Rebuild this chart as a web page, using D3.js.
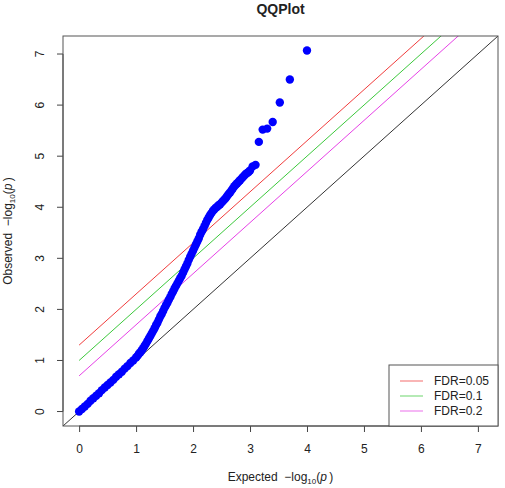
<!DOCTYPE html>
<html>
<head>
<meta charset="utf-8">
<script src="https://cdn.jsdelivr.net/npm/d3@7"></script>
<style>
    body { margin: 0; background: #fff; }
    svg { font-family: "Liberation Sans", Arial, sans-serif; }
</style>
</head>
<body>
<svg id="chart" width="505" height="488"></svg>
<script>

// expected -log10(p)
var expected = [
    0.00, 0.05, 0.10, 0.15, 0.20, 0.25, 0.30, 0.35, 0.40, 0.45,
    0.50, 0.55, 0.60, 0.65, 0.70, 0.75, 0.80, 0.85, 0.90, 0.95,
    1.000, 1.025, 1.050, 1.075, 1.100, 1.125, 1.150, 1.175, 1.200, 1.225,
    1.250, 1.275, 1.300, 1.325, 1.350, 1.375, 1.400, 1.425, 1.450, 1.475,
    1.500, 1.525, 1.550, 1.575, 1.600, 1.625, 1.650, 1.675, 1.700, 1.725,
    1.750, 1.775, 1.800, 1.825, 1.850, 1.875, 1.900, 1.925, 1.950, 1.975,
    2.000, 2.025, 2.050, 2.075, 2.100, 2.125, 2.150, 2.175, 2.200, 2.225,
    2.250, 2.275, 2.300, 2.325, 2.350, 2.375, 2.400, 2.425, 2.450, 2.475,
    2.500, 2.525, 2.550, 2.575, 2.600, 2.625, 2.650, 2.675, 2.700, 2.725,
    2.750, 2.775, 2.800, 2.825, 2.850, 2.875, 2.900, 2.925, 2.950, 2.975,
    3.000, 3.046, 3.097, 3.155, 3.222, 3.301, 3.398, 3.523, 3.699, 4.000
];

// observed -log10(p)
var observed = [
    0.00, 0.05, 0.10, 0.15, 0.21, 0.26, 0.31, 0.36, 0.42, 0.47,
    0.52, 0.57, 0.62, 0.68, 0.73, 0.78, 0.84, 0.89, 0.95, 1.00,
    1.06, 1.09, 1.13, 1.16, 1.20, 1.24, 1.29, 1.33, 1.38, 1.43,
    1.48, 1.53, 1.58, 1.63, 1.69, 1.74, 1.80, 1.86, 1.91, 1.97,
    2.03, 2.08, 2.13, 2.19, 2.24, 2.30, 2.35, 2.41, 2.46, 2.51,
    2.56, 2.61, 2.66, 2.72, 2.78, 2.84, 2.90, 2.97, 3.03, 3.09,
    3.15, 3.21, 3.27, 3.33, 3.39, 3.46, 3.52, 3.57, 3.63, 3.69,
    3.75, 3.80, 3.85, 3.89, 3.93, 3.96, 3.99, 4.01, 4.04, 4.06,
    4.09, 4.12, 4.15, 4.18, 4.22, 4.26, 4.29, 4.33, 4.37, 4.41,
    4.44, 4.47, 4.50, 4.53, 4.56, 4.59, 4.62, 4.65, 4.67, 4.69,
    4.72, 4.80, 4.83, 5.28, 5.52, 5.54, 5.67, 6.05, 6.50, 7.07
];

var fdrLevels = [0.05, 0.1, 0.2];
var fdrLabels = ["FDR=0.05", "FDR=0.1", "FDR=0.2"];
var fdrColors = ["#f03c3c", "#3cc83c", "#e640e6"];

var axisLimits = [-0.283, 7.353];
var tickValues = [0, 1, 2, 3, 4, 5, 6, 7];

init();

function init() {

    var svg = d3.select("#chart"),
        margin = {top: 36, right: 7, bottom: 62, left: 63},
        width = +svg.attr("width") - margin.left - margin.right,
        height = +svg.attr("height") - margin.top - margin.bottom;

    var x = d3.scaleLinear().domain(axisLimits).range([0, width]),
        y = d3.scaleLinear().domain(axisLimits).range([height, 0]);

    var g = svg.append("g")
        .attr("transform", "translate(" + margin.left + "," + margin.top + ")");

    g.append("clipPath")
        .attr("id", "plotClip")
        .append("rect")
        .attr("width", width)
        .attr("height", height);

    var lines = g.append("g").attr("clip-path", "url(#plotClip)");

    // y = x reference line
    lines.append("line")
        .attr("x1", x(axisLimits[0])).attr("y1", y(axisLimits[0]))
        .attr("x2", x(axisLimits[1])).attr("y2", y(axisLimits[1]))
        .attr("stroke", "#333")
        .attr("stroke-width", 1);

    // FDR lines start at expected = 0
    fdrLevels.forEach(function (f, i) {
        var b = -Math.log10(f);
        lines.append("line")
            .attr("x1", x(0)).attr("y1", y(b))
            .attr("x2", x(axisLimits[1])).attr("y2", y(axisLimits[1] + b))
            .attr("stroke", fdrColors[i])
            .attr("stroke-width", 1);
    });

    g.selectAll(".dot")
        .data(expected)
        .enter().append("circle")
        .attr("class", "dot")
        .attr("cx", function (d) { return x(d); })
        .attr("cy", function (d, i) { return y(observed[i]); })
        .attr("r", 4.2)
        .attr("fill", "#0000ff");

    // axes, R style
    var xAxis = g.append("g")
        .attr("transform", "translate(0," + (height) + ")")
        .call(d3.axisBottom(x).tickValues(tickValues).tickSize(6).tickPadding(12));

    var yAxis = g.append("g")
        .call(d3.axisLeft(y).tickValues(tickValues).tickSize(6).tickPadding(12));

    [xAxis, yAxis].forEach(function (a) {
        a.select(".domain").remove();
        a.selectAll("line").attr("stroke", "#444");
        a.selectAll("text")
            .style("font-size", "12px")
            .attr("fill", "#222");
    });

    yAxis.selectAll("text")
        .attr("x", null).attr("dy", null)
        .attr("text-anchor", "middle")
        .attr("transform", function (d) { return "translate(-19," + y(d) + ") rotate(-90)"; });
    yAxis.selectAll(".tick").attr("transform", null);
    yAxis.selectAll(".tick line")
        .attr("y1", function (d) { return y(d); })
        .attr("y2", function (d) { return y(d); });

    // axis lines along the tick range
    g.append("line")
        .attr("x1", x(0)).attr("x2", x(7))
        .attr("y1", height).attr("y2", height)
        .attr("stroke", "#444");
    g.append("line")
        .attr("x1", 0).attr("x2", 0)
        .attr("y1", y(0)).attr("y2", y(7))
        .attr("stroke", "#444");

    g.append("rect")
        .attr("width", width)
        .attr("height", height)
        .attr("fill", "none")
        .attr("stroke", "#555")
        .attr("stroke-width", 1);

    // legend
    var legend = g.append("g")
        .attr("transform", "translate(" + (width - 109) + "," + (height - 61) + ")");

    legend.append("rect")
        .attr("width", 109)
        .attr("height", 61)
        .attr("fill", "#fff")
        .attr("stroke", "#555");

    fdrLabels.forEach(function (label, i) {
        var ly = 16 + i * 15;
        legend.append("line")
            .attr("x1", 11).attr("x2", 34)
            .attr("y1", ly).attr("y2", ly)
            .attr("stroke", fdrColors[i])
            .attr("stroke-opacity", 0.5)
            .attr("stroke-width", 1.5);
        legend.append("text")
            .attr("x", 45)
            .attr("y", ly + 4)
            .style("font-size", "12px")
            .attr("fill", "#222")
            .text(label);
    });

    // title and axis labels
    svg.append("text")
        .attr("x", margin.left + width / 2)
        .attr("y", 14)
        .attr("text-anchor", "middle")
        .style("font-size", "14px")
        .style("font-weight", "bold")
        .attr("fill", "#222")
        .text("QQPlot");

    var xLabel = svg.append("text")
        .attr("x", margin.left + width / 2)
        .attr("y", 481)
        .attr("text-anchor", "middle")
        .style("font-size", "12px")
        .attr("fill", "#222");
    logLabel(xLabel, "Expected");

    var yLabel = svg.append("text")
        .attr("transform", "translate(12," + (margin.top + height / 2) + ") rotate(-90)")
        .attr("text-anchor", "middle")
        .style("font-size", "12px")
        .attr("fill", "#222");
    logLabel(yLabel, "Observed");
}

function logLabel(text, word) {
    text.append("tspan").text(word + "\u00a0\u00a0\u2212log");
    text.append("tspan").attr("dy", 3).style("font-size", "8px").text("10");
    text.append("tspan").attr("dy", -3).text("(");
    text.append("tspan").style("font-style", "italic").text("p");
    text.append("tspan").text("\u2009)");
}
</script>
</body>
</html>
